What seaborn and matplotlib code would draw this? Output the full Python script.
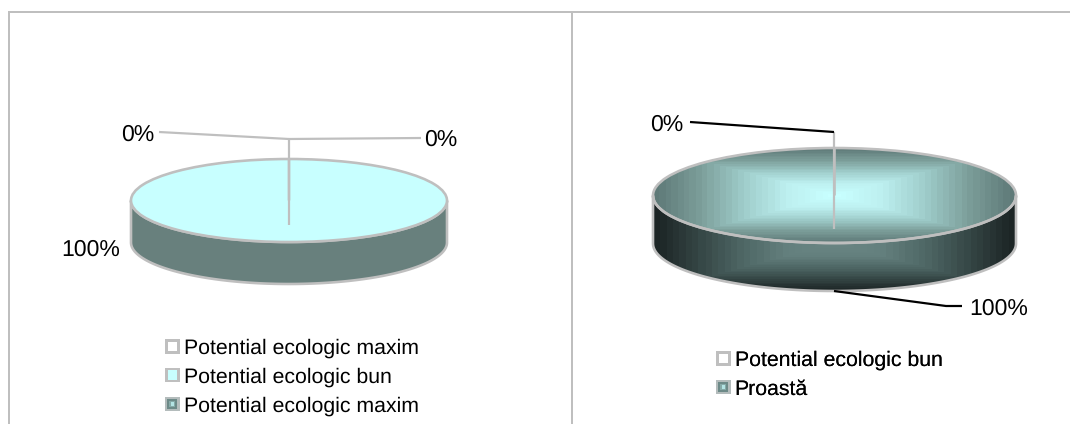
import numpy as np
import matplotlib
matplotlib.use("Agg")
import matplotlib.pyplot as plt
from matplotlib.colors import ListedColormap
from matplotlib.legend_handler import HandlerPatch
from matplotlib.patches import Patch, PathPatch, Rectangle
from matplotlib.path import Path
import seaborn as sns

# Ecological status shares for the two water bodies
left_categories = ["Potential ecologic maxim", "Potential ecologic bun", "Potential ecologic maxim"]
left_values = [0, 100, 0]
right_categories = ["Potential ecologic bun", "Proastă"]
right_values = [0, 100]

GREY = "#bfbfbf"
CYAN = "#c8ffff"
WALL = "#68807d"
TOP_RAMP = ["#c8ffff", "#bdf0f0", "#9fcdcb", "#7c9e9a", "#5f7a78"]
WALL_RAMP = ["#6a8583", "#64807e", "#4f6866", "#364746", "#1c2525"]

W, H = 1070, 424
DPI = 100
PX = 72 / DPI
STROKE = 2.6 * PX

sns.set_theme(style="white")
plt.rcParams["font.family"] = ["Liberation Sans", "DejaVu Sans"]
plt.rcParams["text.hinting"] = "no_hinting"

fig = plt.figure(figsize=(W / DPI, H / DPI), dpi=DPI, facecolor="white")


class GradientSwatch(Rectangle):
    """Legend key for a slice filled with a gradient."""


class GradientSwatchHandler(HandlerPatch):
    def create_artists(self, legend, orig, xd, yd, width, height, fontsize, trans):
        out = []
        layers = [("#b4bcbc", 0.0), ("#6d8a88", 0.17), ("#86aaa8", 0.28), ("#b4e4e4", 0.38)]
        for color, inset in layers:
            dx, dy = width * inset, height * inset
            out.append(Rectangle((-xd + dx, -yd + dy), width - 2 * dx, height - 2 * dy,
                                 facecolor=color, edgecolor="none", transform=trans))
        return out


class PlainSwatchHandler(HandlerPatch):
    def create_artists(self, legend, orig, xd, yd, width, height, fontsize, trans):
        inset = 2.6 * PX
        outer = Rectangle((-xd, -yd), width, height, facecolor=GREY, edgecolor="none", transform=trans)
        inner = Rectangle((-xd + inset, -yd + inset), width - 2 * inset, height - 2 * inset,
                          facecolor=orig.get_facecolor(), edgecolor="none", transform=trans)
        return [outer, inner]


def box_gradient(ax, ramp, y_center, y_half, clip, bands=15):
    """Rectangular banded gradient, bright at the centre, clipped to a patch."""
    xs = np.linspace(-1, 1, 400)
    ys = np.linspace(1.02, -3.2, 900)
    xx, yy = np.meshgrid(xs, ys)
    t = np.maximum(np.abs(xx), np.abs(yy - y_center) / y_half)
    cmap = ListedColormap(sns.blend_palette(ramp, n_colors=bands))
    img = ax.imshow(t, cmap=cmap, vmin=0, vmax=1, extent=(-1, 1, -3.2, 1.02),
                    aspect="auto", zorder=1.5, interpolation="nearest")
    img.set_clip_path(clip)


def draw_pie(values, colors, center, radii, depth_px, gradient):
    cx, cy = center
    rx, ry = radii
    depth = depth_px / ry
    mx, my = 0.04, 0.06
    left = cx - rx * (1 + mx)
    bottom = H - (cy + ry * (1 + depth + my))
    width = 2 * rx * (1 + mx)
    height = ry * (2 + depth + 2 * my)
    ax = fig.add_axes([left / W, bottom / H, width / W, height / H])

    wedges, _ = ax.pie(values, colors=colors, radius=1, startangle=90, frame=True,
                       wedgeprops=dict(edgecolor=GREY, linewidth=STROKE, zorder=3))
    ax.set_aspect("auto")

    # Side wall of the disc: lower half of the rim shifted down, closed along the top rim
    theta = np.linspace(np.pi, 2 * np.pi, 200)
    lower = np.column_stack([np.cos(theta), np.sin(theta) - depth])
    upper = np.column_stack([np.cos(theta[::-1]), np.sin(theta[::-1])])
    verts = np.vstack([lower, upper, lower[:1]])
    codes = [Path.MOVETO] + [Path.LINETO] * (len(verts) - 2) + [Path.CLOSEPOLY]
    wall = PathPatch(Path(verts, codes), facecolor=WALL if not gradient else "none",
                     edgecolor="none", zorder=1)
    ax.add_patch(wall)
    wall_edge = PathPatch(Path(verts, codes), facecolor="none", edgecolor=GREY,
                          linewidth=STROKE, zorder=2.5)
    ax.add_patch(wall_edge)

    if gradient:
        box_gradient(ax, WALL_RAMP, -1.0, depth, wall, bands=28)
        main = wedges[int(np.argmax(values))]
        main.set_facecolor("none")
        top_clip = PathPatch(Path.unit_circle(), transform=ax.transData)
        box_gradient(ax, TOP_RAMP, 0.0, 1.0, top_clip, bands=30)

    ax.set_xlim(-1 - mx, 1 + mx)
    ax.set_ylim(-1 - depth - my, 1 + my)
    ax.axis("off")
    return ax


draw_pie(left_values, ["white", CYAN, "white"], (289, 200.5), (158, 41.5), 42, False)
draw_pie(right_values, ["white", "#7fa3a1"], (834.5, 195.5), (181.5, 47.5), 48, True)

# Pixel-scaled overlay for the panel rules, leader lines, labels and legends
ov = fig.add_axes([0, 0, 1, 1], facecolor="none")
ov.set_xlim(0, W)
ov.set_ylim(H, 0)
ov.axis("off")

for xs, ys in [((9, 9), (11, H)), ((8, W), (12, 12)), ((572, 572), (12, H))]:
    ov.plot(xs, ys, color=GREY, lw=2 * PX, solid_capstyle="butt")

leaders = [
    ([289, 289], [225, 139], GREY),
    ([289, 159], [139, 132], GREY),
    ([289, 421], [139, 138], GREY),
    ([834, 834], [229, 132], GREY),
    ([834, 690], [132, 122], "black"),
    ([834, 946, 962], [291, 306, 306], "black"),
]
for xs, ys, c in leaders:
    ov.plot(xs, ys, color=c, lw=2.2 * PX, solid_capstyle="butt")

LABEL_PT = 23 * PX
label_spec = [
    (left_values[0], 137.5, 132),
    (left_values[2], 441, 137),
    (left_values[1], 91, 247),
    (right_values[0], 667, 122),
    (right_values[1], 999, 306),
]
for v, x, y in label_spec:
    ov.text(x, y, f"{v}%", ha="center", va="center_baseline", fontsize=LABEL_PT, color="black")

LEG_PX = 21.3
LEG_PT = LEG_PX * PX


def add_legend(handles, labels, x, y):
    leg = ov.legend(handles, labels, loc="upper left", bbox_to_anchor=(x, y),
                    bbox_transform=ov.transData, frameon=False, fontsize=LEG_PT,
                    borderpad=0, borderaxespad=0,
                    handlelength=14.5 / LEG_PX, handleheight=14.5 / LEG_PX,
                    handletextpad=4.2 / LEG_PX, labelspacing=(28.5 - LEG_PX * 0.9) / LEG_PX,
                    handler_map={GradientSwatch: GradientSwatchHandler(),
                                 Patch: PlainSwatchHandler()})
    for t in leg.get_texts():
        t.set_color("black")
    ov.add_artist(leg)


add_legend([Patch(facecolor="white"), Patch(facecolor=CYAN), GradientSwatch((0, 0), 1, 1)],
           left_categories, 165, 338.5)
add_legend([Patch(facecolor="white"), GradientSwatch((0, 0), 1, 1)],
           right_categories, 716, 350.5)

fig.savefig("out.png", dpi=DPI, facecolor="white")
